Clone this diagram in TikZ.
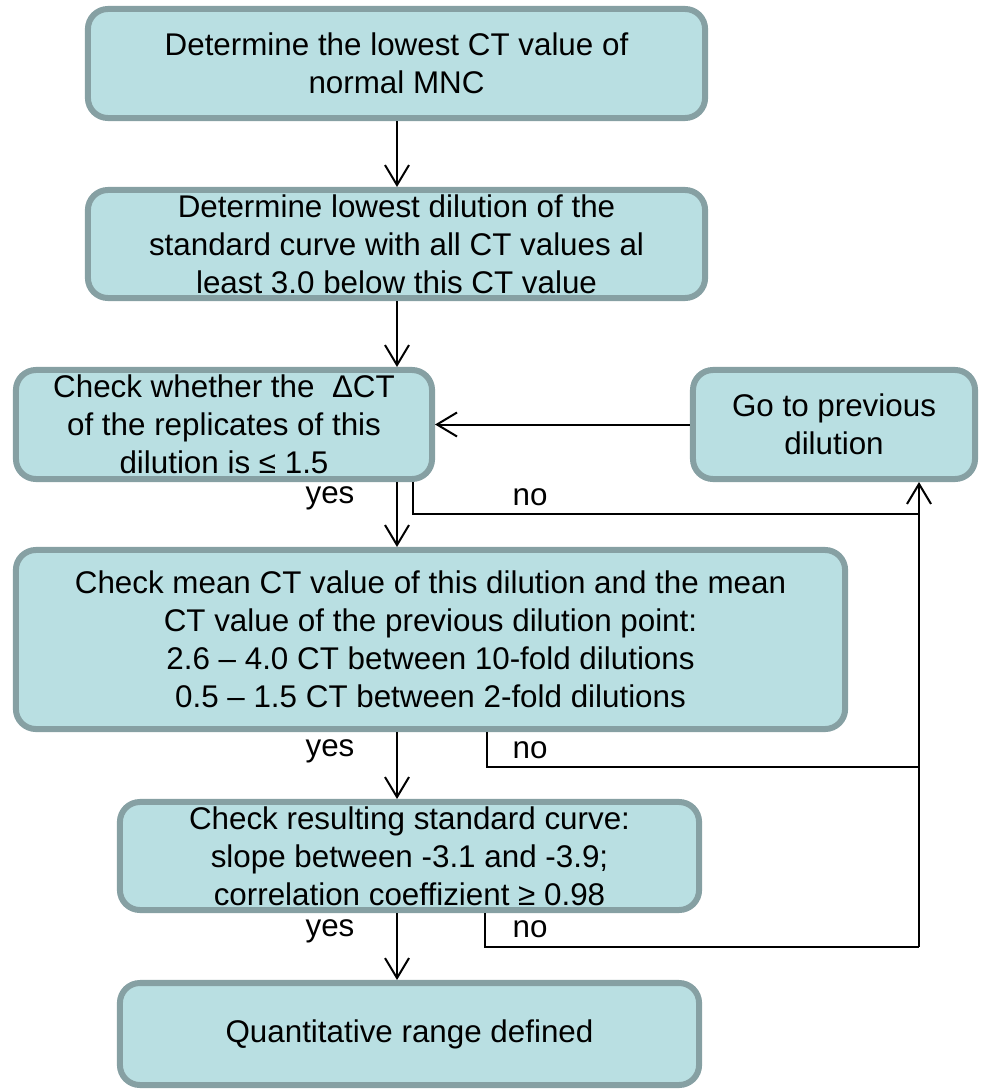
\documentclass[tikz,border=0pt]{standalone}
\usepackage{fontspec}
\setmainfont{Liberation Sans}
\usetikzlibrary{arrows.meta}
\definecolor{boxfill}{HTML}{B9DFE2}
\definecolor{boxdraw}{HTML}{86A0A3}
\begin{document}
\begin{tikzpicture}[x=0.025cm,y=-0.025cm,
 box/.style={draw=boxdraw, fill=boxfill, line width=0.15cm, rounded corners=0.5cm, align=center, inner sep=0pt, font=\fontsize{22.3}{27}\selectfont},
 conn/.style={line width=0.05cm, draw=black},
 arr/.style={conn, -{Straight Barb[length=0.5cm,width=0.6cm]}},
 lbl/.style={font=\fontsize{22.3}{27}\selectfont, inner sep=0pt}]
\useasboundingbox (0,0) rectangle (990,1090);
\node[box, minimum width=15.425cm, minimum height=2.725cm] (b1) at (396.5,63.5) {Determine the lowest CT value of\\normal MNC};
\node[box, minimum width=15.425cm, minimum height=2.7cm] (b2) at (396.5,244) {Determine lowest dilution of the\\standard curve with all CT values al\\least 3.0 below this CT value};
\node[box, minimum width=10.4cm, minimum height=2.725cm] (b3) at (224,424.5) {Check whether the \ ΔCT\\of the replicates of this\\dilution is ≤ 1.5};
\node[box, minimum width=7.05cm, minimum height=2.725cm] (b4) at (834,424.5) {Go to previous\\dilution};
\node[box, minimum width=20.725cm, minimum height=4.475cm] (b5) at (430.5,639.5) {Check mean CT value of this dilution and the mean\\CT value of the previous dilution point:\\2.6 – 4.0 CT between 10-fold dilutions\\0.5 – 1.5 CT between 2-fold dilutions};
\node[box, minimum width=14.475cm, minimum height=2.7cm] (b6) at (409.5,856) {Check resulting standard curve:\\slope between -3.1 and -3.9;\\correlation coeffizient ≥ 0.98};
\node[box, minimum width=14.475cm, minimum height=2.55cm] (b7) at (409.5,1034) {Quantitative range defined};

\coordinate (m) at (397,0);
\coordinate (R) at (919,947);
\coordinate (n3) at (413,514);
\coordinate (n5) at (487,767);
\coordinate (n6) at (485,947);

\draw[arr] (b1.south -| m) -- (b2.north -| m);
\draw[arr] (b2.south -| m) -- (b3.north -| m);
\draw[arr] (b3.south -| m) -- (b5.north -| m);
\draw[arr] (b5.south -| m) -- (b6.north -| m);
\draw[arr] (b6.south -| m) -- (b7.north -| m);
\draw[arr] (b4.west) -- (b3.east);

\draw[conn] (b3.south -| n3) -- (n3) -- (n3 -| R);
\draw[conn] (b5.south -| n5) -- (n5) -- (n5 -| R);
\draw[conn] (b6.south -| n6) -- (n6) -- (R);
\draw[arr] (R) -- (b4.south -| R);

\node[lbl] (y1) at (330,498) {yes};
\node[lbl] (y2) at (330,751) {yes};
\node[lbl] (y3) at (330,931) {yes};
\node[lbl] (o1) at (530,497) {no};
\node[lbl] (o2) at (530,750) {no};
\node[lbl] (o3) at (530,929) {no};
\end{tikzpicture}
\end{document}
